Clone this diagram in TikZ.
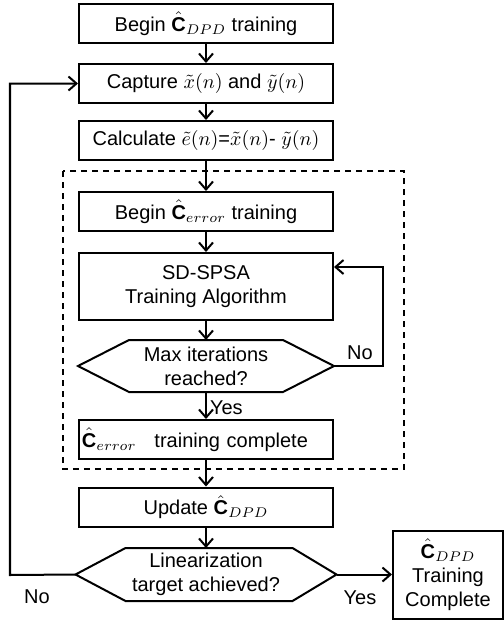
\documentclass[tikz,border=0pt]{standalone}
\usepackage{amsmath}
\usepackage{fontspec}
\setmainfont{Liberation Sans}
\usetikzlibrary{arrows.meta}

\newcommand{\Chat}{\hat{\mathbf{C}}}

\begin{document}
\begin{tikzpicture}[x=0.5pt, y=-0.5pt, line width=1pt,
	font=\fontsize{10}{12}\selectfont,
	>={Straight Barb[length=4pt,width=7pt]},
	box/.style={draw, minimum width=127pt, minimum height=19.5pt, inner sep=1pt, align=center},
	hexa/.style={minimum width=#1, minimum height=25pt, inner sep=0pt, align=center}]
\useasboundingbox (0,0) rectangle (504,623);

\node[box] (dpdbegin) at (206,23.5) {Begin $\Chat_{DPD}$ training};
\node[box] (capture) at (206,83.5) {Capture $\tilde{x}(n)$ and $\tilde{y}(n)$};
\node[box] (calc) at (206,140.5) {Calculate $\tilde{e}(n)$=$\tilde{x}(n)$- $\tilde{y}(n)$};
\node[box] (errbegin) at (206,211.5) {Begin $\Chat_{error}$ training};
\node[box, minimum height=33.5pt] (spsa) at (206,286.5) {SD-SPSA\\Training Algorithm};
\node[hexa=127pt] (maxit) at (206,366) {Max iterations\\reached?};
\node[box, text width=124pt, align=left] (errdone) at (206,439.5) {$\Chat_{error}$\hspace{0.9em}training complete};
\node[box] (update) at (206,507) {Update $\Chat_{DPD}$};
\node[hexa=129.5pt, minimum height=25.5pt] (lintarget) at (206,574.5) {Linearization\\target achieved?};
\node[box, minimum width=55pt, minimum height=44pt] (dpddone) at (448,574.5) {$\Chat_{DPD}$\\Training\\Complete};

% decision outlines
\draw (maxit.west) -- ([xshift=25.5pt]maxit.north west) -- ([xshift=-25.5pt]maxit.north east)
	-- (maxit.east) -- ([xshift=-25.5pt]maxit.south east) -- ([xshift=25.5pt]maxit.south west) -- cycle;
\draw (lintarget.west) -- ([xshift=25pt]lintarget.north west) -- ([xshift=-22pt]lintarget.north east)
	-- (lintarget.east) -- ([xshift=-22pt]lintarget.south east) -- ([xshift=25pt]lintarget.south west) -- cycle;

% inner training block
\draw[dash pattern=on 3pt off 2.5pt] (63,171) rectangle (404,469);

\path[->]
(dpdbegin) edge (capture)
(capture) edge (calc)
(calc) edge (errbegin)
(errbegin) edge (spsa)
(spsa) edge (maxit)
(maxit) edge node [right, pos=0.6, inner sep=1.5pt] {Yes} (errdone)
(errdone) edge (update)
(update) edge (lintarget)
(lintarget) edge (dpddone)
;

\coordinate (noturn) at (383,366);
\coordinate (noback) at (383,267);
\draw[->] (maxit.east) -- (noturn) -- (noback) -- (noback -| spsa.east);
\node (nomax) at (360,353) {No};

\coordinate (lowturn) at (10,575);
\coordinate (topturn) at (10,83.5);
\draw[->] (lintarget.west) -- (lowturn) -- (topturn) -- (capture.west);
\node (nolin) at (37,597) {No};
\node (yeslin) at (360,598) {Yes};
\end{tikzpicture}
\end{document}
